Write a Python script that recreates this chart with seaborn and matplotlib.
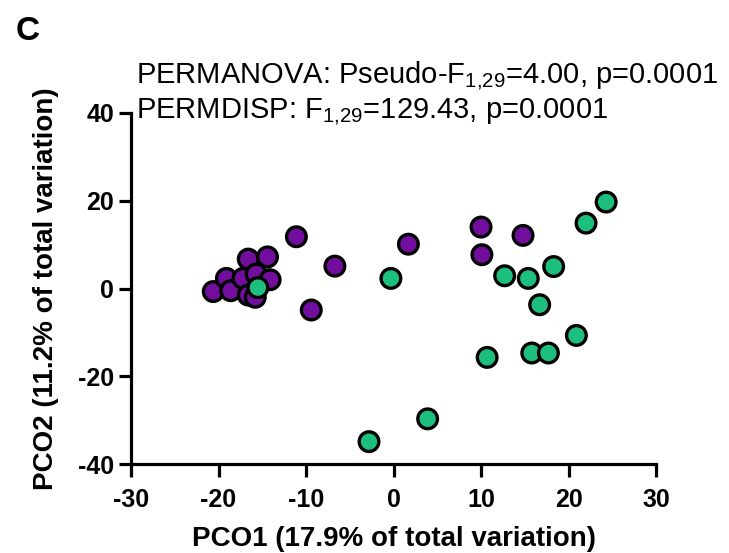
import matplotlib
matplotlib.use("Agg")
import matplotlib.pyplot as plt
import seaborn as sns
import pandas as pd

sns.set_style("white")
plt.rcParams['font.family'] = ['Liberation Sans', 'DejaVu Sans']
plt.rcParams['mathtext.fontset'] = 'custom'
plt.rcParams['mathtext.rm'] = 'Liberation Sans'
plt.rcParams['mathtext.it'] = 'Liberation Sans'
plt.rcParams['axes.unicode_minus'] = False
plt.rcParams['text.color'] = 'black'
plt.rcParams['axes.labelcolor'] = 'black'
plt.rcParams['xtick.color'] = 'black'
plt.rcParams['ytick.color'] = 'black'

purple_x = [-20.6, -19.1, -18.6, -17.2, -16.6, -14.4, -15.7, -14.1, -16.6, -15.8,
            -11.1, -6.7, -9.4, 1.7, 10.0, 10.1, 14.8]
purple_y = [-0.7, 2.3, -0.5, 2.3, 6.7, 7.2, 3.3, 2.0, -1.5, -2.0,
            11.8, 5.1, -4.9, 10.1, 14.0, 7.7, 12.1]
green_x = [-15.5, -0.3, 12.7, 15.4, 18.3, 22.0, 24.3, 16.7, 20.9, 10.7, 15.8, 17.7,
           -2.8, 3.9]
green_y = [0.2, 2.3, 2.9, 2.3, 5.0, 14.9, 19.7, -3.7, -10.7, -15.7, -14.7, -14.7,
           -34.9, -29.7]

groups = ["A"] * len(purple_x) + ["B"] * len(green_x)
df = pd.DataFrame({"PCO1": purple_x + green_x, "PCO2": purple_y + green_y, "group": groups})
palette = {"A": "#720E9E", "B": "#1DBF7F"}

fig = plt.figure(figsize=(7.29, 5.53), dpi=100)
ax = fig.add_axes([0.1797, 0.1609, 0.7202, 0.6348])
sns.scatterplot(data=df, x="PCO1", y="PCO2", hue="group", palette=palette, s=200,
                edgecolor="black", linewidth=2.4, ax=ax, legend=False, clip_on=False, zorder=3)

ax.set_xlim(-30, 30)
ax.set_ylim(-40, 40)
ax.set_xticks([-30, -20, -10, 0, 10, 20, 30])
ax.set_yticks([-40, -20, 0, 20, 40])
for s in ["top", "right"]:
    ax.spines[s].set_visible(False)
for s in ["left", "bottom"]:
    ax.spines[s].set_linewidth(2.3)
    ax.spines[s].set_color("black")
ax.tick_params(direction="out", length=9, width=2.3, colors="black", labelsize=18,
               bottom=True, left=True)
ax.tick_params(axis="x", pad=8)
ax.tick_params(axis="y", pad=3)
for lab in ax.get_xticklabels() + ax.get_yticklabels():
    lab.set_fontweight("bold")
ax.set_xlabel("PCO1 (17.9% of total variation)", fontsize=20, fontweight="bold", labelpad=10,
              color="black")
ax.set_ylabel("PCO2 (11.2% of total variation)", fontsize=20, fontweight="bold", labelpad=14,
              color="black")

fig.text(0.186, 1 - 76 / 553, r"PERMANOVA: Pseudo-F$_{\mathregular{1{,}29}}$=4.00, p=0.0001",
         fontsize=21, ha="left", va="center", color="black")
fig.text(0.186, 1 - 113 / 553, r"PERMDISP: F$_{\mathregular{1{,}29}}$=129.43, p=0.0001",
         fontsize=21, ha="left", va="center", color="black")
fig.text(0.038, 0.943, "C", fontsize=24, fontweight="bold", ha="center", va="center",
         color="black")

fig.savefig("out.png", dpi=100)
